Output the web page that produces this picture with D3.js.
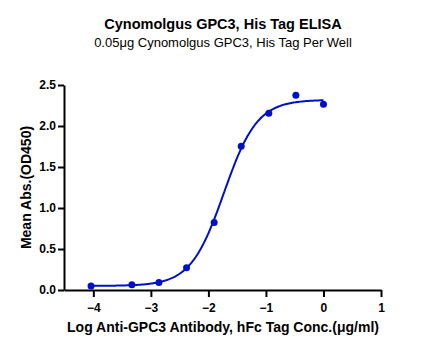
<!DOCTYPE html>
<html>
<head>
<meta charset="utf-8">
<script src="https://cdn.jsdelivr.net/npm/d3@7"></script>
<style>
  body { margin: 0; background: #fff; }
  text { font-family: "Liberation Sans", Arial, sans-serif; }
</style>
</head>
<body>
<div id="chart"></div>
<script>
// measured points
const logConc = [-4.04, -3.33, -2.86, -2.38, -1.90, -1.43, -0.95, -0.48, 0];
const meanAbs = [0.049, 0.065, 0.09, 0.27, 0.824, 1.754, 2.156, 2.375, 2.265];

// 4PL fit: bottom, top, logEC50, hill
const fitParams = [0.05, 2.32, -1.73, 1.5];

const xTicks = [-4, -3, -2, -1, 0, 1];
const yTicks = [0, 0.5, 1.0, 1.5, 2.0, 2.5];

const W = 425, H = 350;
const margin = {top: 85, right: 44, bottom: 60, left: 64};
const width = W - margin.left - margin.right;
const height = H - margin.top - margin.bottom;

const svg = d3.select("#chart").append("svg")
    .attr("width", W)
    .attr("height", H);

svg.append("text")
    .attr("x", 223).attr("y", 29)
    .attr("text-anchor", "middle")
    .style("font-size", "14.5px").style("font-weight", "bold")
    .text("Cynomolgus GPC3, His Tag ELISA");

svg.append("text")
    .attr("x", 223).attr("y", 47)
    .attr("text-anchor", "middle")
    .style("font-size", "13px")
    .text("0.05μg Cynomolgus GPC3, His Tag Per Well");

const g = svg.append("g")
    .attr("transform", `translate(${margin.left},${margin.top})`);

const x = d3.scaleLinear().domain([-4.51, 1]).range([0, width]);
const y = d3.scaleLinear().domain([0, 2.5]).range([height, 0]);

const xAxis = g.append("g")
    .attr("transform", `translate(0,${height})`)
    .call(d3.axisBottom(x).tickValues(xTicks).tickFormat(d3.format("d")).tickSize(7).tickSizeOuter(0));
const yAxis = g.append("g")
    .call(d3.axisLeft(y).tickValues(yTicks).tickFormat(d3.format(".1f")).tickSize(6).tickSizeOuter(0));

[xAxis, yAxis].forEach(a => {
    a.select(".domain").attr("stroke", "#000").attr("stroke-width", 2);
    a.selectAll(".tick line").attr("stroke", "#000").attr("stroke-width", 2);
    a.selectAll(".tick text")
        .style("font-family", "'Liberation Sans', Arial, sans-serif")
        .style("font-size", "12px").style("font-weight", "bold").attr("fill", "#000");
});
xAxis.selectAll(".tick text").attr("dy", "1.0em");
yAxis.selectAll(".tick text").attr("x", -8);

// fitted curve
const [fitBottom, fitTop, logEC50, hill] = fitParams;
const fit = v => fitBottom + (fitTop - fitBottom) / (1 + Math.pow(10, (logEC50 - v) * hill));
const curveX = d3.range(logConc[0], 0.0001, 0.02);

g.append("path")
    .datum(curveX)
    .attr("fill", "none")
    .attr("stroke", "#0010c8")
    .attr("stroke-width", 2)
    .attr("d", d3.line().x(d => x(d)).y(d => y(fit(d))));

g.selectAll("circle")
    .data(logConc.map((c, i) => ({c, v: meanAbs[i]})))
    .enter().append("circle")
    .attr("cx", d => x(d.c))
    .attr("cy", d => y(d.v))
    .attr("r", 3.5)
    .attr("fill", "#0010c8");

svg.append("text")
    .attr("x", 223).attr("y", 332)
    .attr("text-anchor", "middle")
    .style("font-size", "14px").style("font-weight", "bold")
    .text("Log Anti-GPC3 Antibody, hFc Tag Conc.(μg/ml)");

svg.append("text")
    .attr("transform", `translate(31,${margin.top + height / 2}) rotate(-90)`)
    .attr("text-anchor", "middle")
    .style("font-size", "14px").style("font-weight", "bold")
    .text("Mean Abs.(OD450)");
</script>
</body>
</html>
